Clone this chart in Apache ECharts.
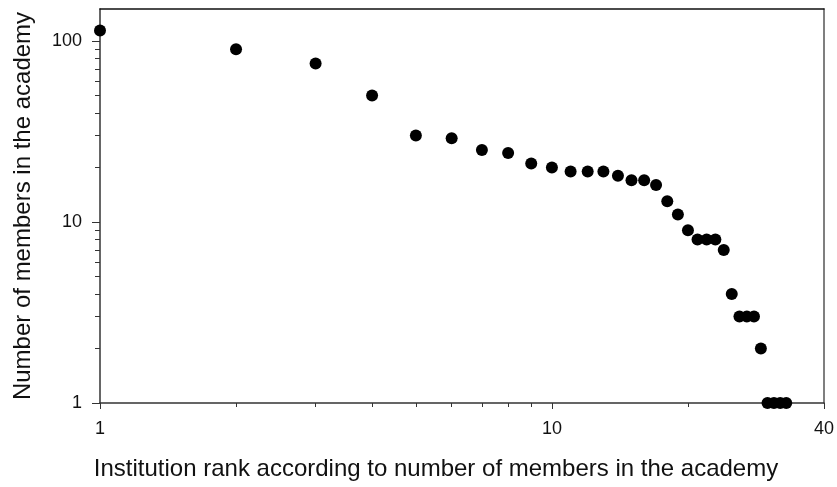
<!DOCTYPE html>
<html>
<head>
<meta charset="utf-8">
<script src="https://cdn.jsdelivr.net/npm/echarts@6/dist/echarts.min.js"></script>
<style>html,body{margin:0;padding:0;background:#fff}#c{width:837px;height:487px}</style>
</head>
<body>
<div id="c"></div>
<script>
const ranks = [1,2,3,4,5,6,7,8,9,10,11,12,13,14,15,16,17,18,19,20,21,22,23,24,25,26,27,28,29,30,31,32,33];
const members = [114,90,75,50,30,29,25,24,21,20,19,19,19,18,17,17,16,13,11,9,8,8,8,7,4,3,3,3,2,1,1,1,1];
const xLabelValues = [1,10,40];
const xMajorTicks = [1,10,40];
const xMinorTicks = [2,3,4,5,6,7,8,9,20,30];
const yLabelValues = [1,10,100];
const yMinorTicks = [2,3,4,5,6,7,8,9,20,30,40,50,60,70,80,90];
const xTitle = 'Institution rank according to number of members in the academy';
const yTitle = 'Number of members in the academy';

const FONT = '"Liberation Sans", Arial, Helvetica, sans-serif';
const LINE = '#333';
const chart = echarts.init(document.getElementById('c'), null, {renderer:'canvas'});
const X = {min:1, max:40, logBase:10};
const Y = {min:1, max:150, logBase:10};
chart.setOption({
  animation:false,
  backgroundColor:'#fff',
  grid:{left:100, right:11, top:9, bottom:84, containLabel:false},
  xAxis:[
    Object.assign({type:'log', position:'bottom',
      axisLine:{show:true, onZero:false, lineStyle:{color:LINE, width:1.5}},
      axisTick:{show:true, inside:false, length:6, customValues:xMajorTicks, lineStyle:{color:LINE, width:1}},
      axisLabel:{show:true, customValues:xLabelValues, margin:17, fontSize:18, color:'#111', fontFamily:FONT},
      splitLine:{show:false}, minorTick:{show:false},
      name:xTitle, nameLocation:'middle', nameGap:54,
      nameTextStyle:{fontSize:24, color:'#111', fontFamily:FONT, padding:[0,52,0,0]}
    }, X),
    Object.assign({type:'log', position:'bottom', gridIndex:0,
      axisLine:{show:false},
      axisTick:{show:true, inside:false, length:4, customValues:xMinorTicks, lineStyle:{color:LINE, width:1}},
      axisLabel:{show:false}, splitLine:{show:false}
    }, X),
    Object.assign({type:'log', position:'top', gridIndex:0,
      axisLine:{show:true, onZero:false, lineStyle:{color:'#111', width:1.5}},
      axisTick:{show:false}, axisLabel:{show:false}, splitLine:{show:false}
    }, X)
  ],
  yAxis:[
    Object.assign({type:'log', position:'left',
      axisLine:{show:true, onZero:false, lineStyle:{color:LINE, width:1.5}},
      axisTick:{show:true, inside:false, length:8, customValues:yLabelValues, lineStyle:{color:LINE, width:1}},
      axisLabel:{show:true, customValues:yLabelValues, margin:18, fontSize:18, color:'#111', fontFamily:FONT},
      splitLine:{show:false}, minorTick:{show:false},
      name:yTitle, nameLocation:'middle', nameGap:65, nameRotate:90,
      nameTextStyle:{fontSize:24, color:'#111', fontFamily:FONT}
    }, Y),
    Object.assign({type:'log', position:'left', gridIndex:0,
      axisLine:{show:false},
      axisTick:{show:true, inside:false, length:5, customValues:yMinorTicks, lineStyle:{color:LINE, width:1}},
      axisLabel:{show:false}, splitLine:{show:false}
    }, Y),
    Object.assign({type:'log', position:'right', gridIndex:0,
      axisLine:{show:true, onZero:false, lineStyle:{color:'#555', width:1.5}},
      axisTick:{show:false}, axisLabel:{show:false}, splitLine:{show:false}
    }, Y)
  ],
  series:[{
    type:'scatter', xAxisIndex:0, yAxisIndex:0,
    symbol:'circle', symbolSize:12,
    itemStyle:{color:'#000', opacity:1},
    clip:false,
    data: ranks.map((r,i)=>[r, members[i]])
  }]
});
</script>
</body>
</html>
